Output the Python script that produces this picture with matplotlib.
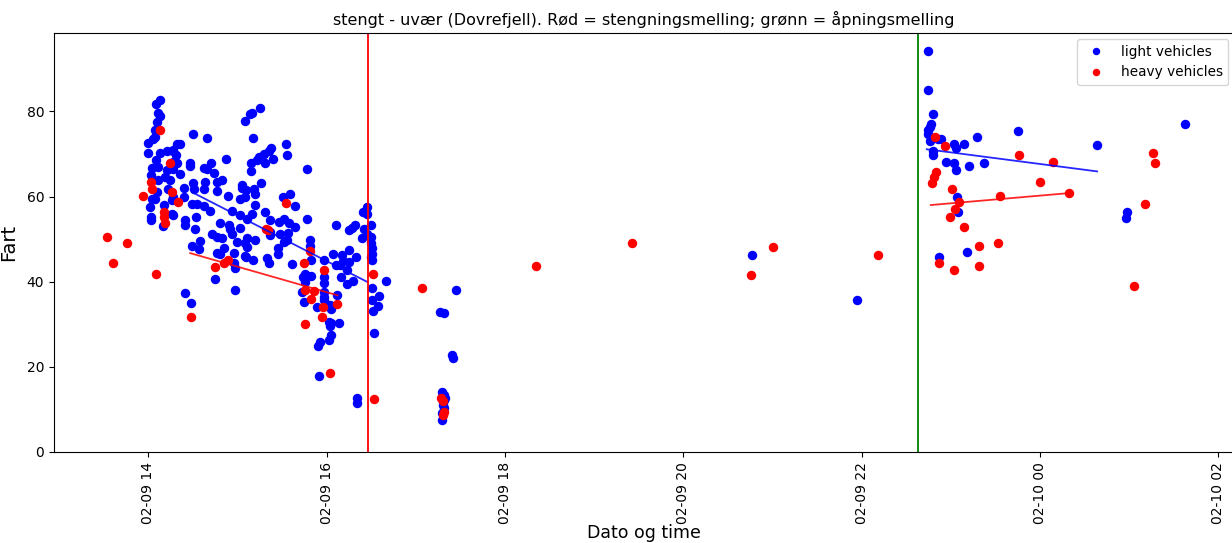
import pandas as pd
import matplotlib
matplotlib.use('Agg')
import matplotlib.pyplot as plt
import matplotlib.dates as mdates

BASE = pd.Timestamp('2019-02-09 00:00')

# hours after 02-09 00:00 and speed (km/h), light vehicles
light_hours = [
    14.135, 14.087, 14.116, 14.135, 14.098, 14.079, 14.079, 14.060,
    13.997, 14.003, 14.135, 14.210, 14.284, 14.090, 14.042, 14.116,
    14.210, 14.034, 14.116, 14.191, 14.247, 14.098, 14.228, 14.042,
    14.079, 14.266, 14.022, 14.183, 14.273, 14.034, 14.034, 14.172,
    15.090, 15.138, 14.502, 14.660, 14.322, 14.352, 14.284, 14.315,
    14.278, 14.322, 14.472, 14.472, 14.704, 14.876, 14.621, 14.660,
    14.734, 14.278, 14.352, 14.502, 14.640, 14.772, 14.828, 15.053,
    15.053, 14.397, 14.509, 14.621, 14.772, 14.278, 14.397, 14.896,
    15.034, 14.491, 14.547, 14.621, 14.689, 14.940, 14.284, 14.416,
    14.539, 14.408, 14.801, 15.034, 14.528, 14.902, 14.921, 15.034,
    14.716, 14.772, 14.828, 14.940, 14.997, 15.109, 14.576, 14.491,
    14.565, 14.846, 14.809, 14.772, 14.958, 15.090, 14.958, 14.978,
    14.745, 14.970, 14.416, 14.483,
    15.258, 15.165, 15.180, 15.547, 15.558, 15.382, 15.360, 15.303,
    15.239, 15.221, 15.397, 15.307, 15.157, 15.157, 15.783, 15.270,
    15.183, 15.194, 15.097, 15.090, 15.513, 15.588, 15.652, 15.202,
    15.165, 15.307, 15.109, 15.363, 15.464, 15.520, 15.576, 15.652,
    15.783, 15.371, 15.371, 15.483, 15.570, 15.558, 15.520, 15.194,
    15.090, 15.109, 15.457, 15.457, 15.820, 15.812, 15.101, 15.176,
    15.334, 15.360, 15.615, 15.831, 15.970, 15.764, 15.831, 15.734,
    15.756, 15.970, 15.970, 15.727, 15.745, 15.896, 15.970,
    16.455, 16.410, 16.449, 16.101, 16.315, 16.289, 16.251, 16.494,
    16.419, 16.455, 16.401, 16.494, 16.494, 16.513, 16.513, 16.494,
    16.513, 16.075, 16.177, 16.183, 16.251, 16.251, 16.334, 16.101,
    16.149, 16.233, 16.157, 16.296, 16.233, 16.663, 16.506, 15.970,
    15.970, 16.120, 16.587, 16.513, 16.037, 16.045, 16.576, 16.525,
    16.026, 16.053, 16.138, 16.037, 16.531, 16.045, 16.026, 15.925,
    15.902, 15.913, 16.345, 16.345,
    17.449, 17.273, 17.318, 17.412, 17.419, 17.300, 17.318, 17.318,
    17.311, 17.318, 17.300, 17.300, 17.326, 17.303, 20.775, 21.944,
    22.742, 22.742, 22.798, 22.779, 22.767, 22.749, 22.749, 22.767,
    22.891, 22.854, 22.798, 22.798, 23.037, 23.060, 23.142, 23.296,
    23.753, 24.640, 22.947, 23.037, 23.060, 23.199, 23.374, 23.067,
    23.075, 23.180, 22.869, 25.626, 24.970, 24.966,
]
light_speed = [
    82.6, 81.8, 79.6, 78.9, 77.5, 75.7, 74.0, 73.6,
    72.6, 70.2, 70.3, 70.7, 70.7, 68.5, 66.6, 67.0,
    66.2, 65.0, 63.8, 64.5, 63.8, 61.1, 61.7, 59.5,
    59.3, 59.1, 57.6, 58.0, 55.8, 55.2, 54.5, 53.0,
    77.8, 79.3, 74.7, 73.8, 72.3, 72.3, 70.9, 69.7,
    68.1, 67.9, 67.9, 67.1, 67.8, 68.8, 66.7, 66.4,
    65.6, 66.4, 65.4, 63.2, 63.4, 63.4, 63.8, 62.8,
    61.9, 61.9, 61.7, 61.7, 61.3, 59.8, 59.8, 60.1,
    59.5, 58.2, 58.2, 57.7, 56.5, 56.6, 55.6, 54.6,
    55.2, 53.3, 53.7, 55.6, 52.3, 53.3, 52.3, 52.5,
    51.3, 50.5, 50.2, 51.3, 49.4, 50.2, 49.6, 48.4,
    47.6, 48.0, 46.6, 46.8, 46.8, 46.1, 44.3, 43.1,
    40.6, 38.0, 37.4, 34.9,
    80.7, 79.5, 73.8, 72.3, 69.7, 71.5, 70.7, 69.9,
    69.3, 68.5, 68.8, 67.8, 67.8, 66.0, 66.4, 63.2,
    61.7, 60.7, 61.5, 59.9, 59.8, 60.5, 57.8, 58.1,
    55.9, 56.4, 54.8, 54.6, 54.1, 54.8, 53.8, 52.9,
    54.8, 51.7, 50.9, 51.3, 51.5, 49.8, 49.4, 49.8,
    49.0, 48.2, 48.0, 46.6, 49.9, 48.3, 45.8, 45.1,
    45.5, 44.3, 44.1, 45.2, 45.1, 41.9, 41.4, 41.1,
    40.0, 41.1, 39.6, 37.6, 35.3, 34.1, 35.7,
    57.6, 56.4, 56.0, 53.3, 53.3, 52.5, 52.1, 53.3,
    52.3, 51.3, 50.2, 50.5, 49.0, 47.8, 46.6, 45.8,
    45.1, 46.4, 46.2, 44.9, 47.4, 44.7, 45.7, 43.9,
    43.9, 42.7, 41.1, 40.2, 39.4, 40.2, 38.4, 37.6,
    36.5, 36.8, 36.6, 35.8, 34.5, 33.7, 34.3, 33.2,
    30.6, 30.2, 30.4, 29.6, 28.0, 27.5, 26.4, 25.9,
    24.9, 17.8, 12.6, 11.4,
    38.0, 32.8, 32.6, 22.8, 22.0, 14.2, 13.4, 12.2,
    11.0, 10.3, 9.1, 7.5, 12.7, 11.7, 46.2, 35.7,
    94.2, 85.0, 79.3, 77.1, 76.3, 75.6, 74.8, 73.0,
    73.6, 73.6, 70.7, 69.7, 72.3, 71.5, 72.3, 73.9,
    75.4, 72.2, 68.1, 67.9, 66.2, 67.2, 67.8, 59.8,
    56.4, 47.0, 45.7, 77.0, 56.4, 55.0,
]

# heavy vehicles
heavy_hours = [
    13.543, 13.610, 13.761, 13.947, 14.030, 14.042, 14.138, 14.247,
    14.273, 14.180, 14.180, 14.191, 14.093, 14.340, 14.745, 14.854,
    14.891, 14.483, 15.543, 15.322, 15.348, 15.820, 15.753, 15.970,
    16.520, 15.764, 15.857, 15.828, 16.120, 15.958, 15.944, 15.764,
    16.034, 16.531, 17.067, 17.289, 17.311, 17.318, 17.307, 18.348,
    19.430, 21.011, 20.764, 22.180, 22.817, 22.936, 22.831, 22.806,
    22.787, 23.761, 24.143, 23.997, 23.011, 23.554, 24.329, 23.093,
    23.048, 22.992, 23.149, 23.524, 23.318, 22.869, 23.030, 23.318,
    25.266, 25.289, 25.180, 25.048,
]
heavy_speed = [
    50.5, 44.5, 49.1, 60.2, 63.4, 61.7, 75.6, 67.9,
    61.0, 56.3, 55.2, 53.8, 41.8, 58.6, 43.5, 44.4,
    45.2, 31.6, 58.4, 52.3, 52.1, 47.2, 44.4, 42.7,
    41.8, 38.0, 37.9, 35.9, 34.7, 34.1, 31.8, 30.0,
    18.5, 12.4, 38.4, 12.7, 12.0, 9.5, 8.7, 43.7,
    49.1, 48.2, 41.6, 46.2, 74.0, 71.9, 65.7, 64.6,
    63.2, 69.7, 68.0, 63.3, 61.7, 60.2, 60.9, 58.7,
    57.0, 55.2, 52.9, 49.1, 48.4, 44.3, 42.7, 43.7,
    70.3, 67.9, 58.2, 39.1,
]

# trend lines before closing and after opening (start, end)
trend_light_closed = ([14.494, 16.461], [61.0, 39.9])
trend_heavy_closed = ([14.472, 16.124], [46.7, 36.8])
trend_light_open = ([22.730, 24.640], [71.1, 65.9])
trend_heavy_open = ([22.775, 24.326], [58.0, 60.8])

closing_hour = 16.47
opening_hour = 22.63
x_range = (12.944, 26.18)


def to_time(hours):
    return BASE + pd.to_timedelta(pd.Series(hours), unit='h')


fig = plt.figure(figsize=(12.32, 5.43), dpi=100)
ax = fig.add_axes([0.0438, 0.1676, 0.9582, 0.7716])

ax.plot(to_time(light_hours), light_speed, 'o', color='blue',
        markersize=5.8, label='light vehicles')
ax.plot(to_time(heavy_hours), heavy_speed, 'o', color='red',
        markersize=5.8, label='heavy vehicles')

for (hrs, spd), col in [(trend_light_closed, 'blue'), (trend_heavy_closed, 'red'),
                        (trend_light_open, 'blue'), (trend_heavy_open, 'red')]:
    ax.plot(to_time(hrs), spd, '-', color=col, linewidth=1.3, alpha=0.85)

ax.axvline(BASE + pd.Timedelta(hours=closing_hour), color='red', linewidth=1.3)
ax.axvline(BASE + pd.Timedelta(hours=opening_hour), color='green', linewidth=1.3)

ax.set_xlim(BASE + pd.Timedelta(hours=x_range[0]), BASE + pd.Timedelta(hours=x_range[1]))
ax.set_ylim(0, 98.4)
ax.set_yticks([0, 20, 40, 60, 80])

ax.xaxis.set_major_locator(mdates.HourLocator(byhour=range(0, 24, 2)))
ax.xaxis.set_major_formatter(mdates.DateFormatter('%m-%d %H'))
ax.tick_params(axis='both', labelsize=10)
plt.setp(ax.get_xticklabels(), rotation=90)

ax.set_xlabel('Dato og time', fontsize=12.5, labelpad=0)
ax.set_ylabel('Fart', fontsize=14, labelpad=6)
ax.set_title('stengt - uvær (Dovrefjell). Rød = stengningsmelling; grønn = åpningsmelling',
             fontsize=11.5)
ax.legend(loc='upper right', fontsize=9.8, numpoints=1, markerscale=0.75,
          borderaxespad=0.45)

fig.savefig('out.png', dpi=100)
